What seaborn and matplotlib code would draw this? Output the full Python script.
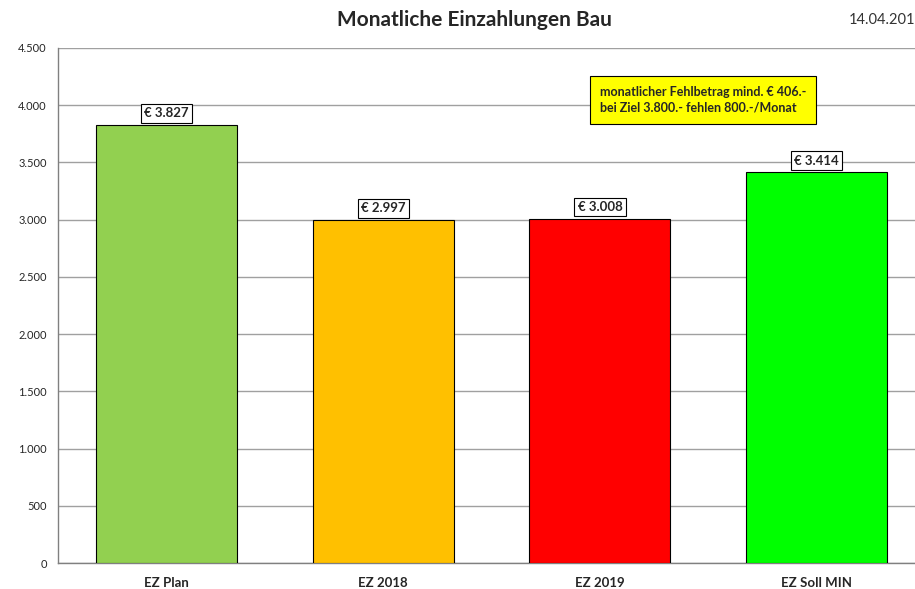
import numpy as np
import pandas as pd
import matplotlib
matplotlib.use("Agg")
import matplotlib.pyplot as plt
from matplotlib.ticker import FuncFormatter, FixedLocator
import seaborn as sns

sns.set_style("white")
plt.rcParams['font.family'] = ['Lato', 'DejaVu Sans']

# data
categories = ['EZ Plan', 'EZ 2018', 'EZ 2019', 'EZ Soll MIN']
values = [3827, 2997, 3008, 3414]
bar_colors = ['#92D050', '#FFC000', '#FF0000', '#00FF00']
title = 'Monatliche Einzahlungen Bau'
date_text = '14.04.201'
note = 'monatlicher Fehlbetrag mind. € 406.-\nbei Ziel 3.800.- fehlen 800.-/Monat'

df = pd.DataFrame({'cat': categories, 'val': values})

W, H = 915, 589
fig = plt.figure(figsize=(W / 100, H / 100), dpi=100)
# plot area runs slightly past the right edge, as in the original
ax = fig.add_axes([58 / W, (H - 563) / H, (925 - 58) / W, (563 - 48) / H])

sns.barplot(data=df, x='cat', y='val', hue='cat', palette=bar_colors,
            width=0.65, edgecolor='black', linewidth=0.8, legend=False,
            saturation=1, ax=ax, zorder=3)

ax.set_xlim(-0.5, 3.5)
ax.set_ylim(0, 4500)
ax.set_yticks(np.arange(0, 4501, 500))
ax.yaxis.set_major_formatter(FuncFormatter(lambda v, p: f'{int(v):,}'.replace(',', '.')))
ax.grid(axis='y', color='#A0A0A0', linewidth=1, zorder=0)
ax.set_xlabel('')
ax.set_ylabel('')

for s in ['top', 'right']:
    ax.spines[s].set_visible(False)
for s in ['left', 'bottom']:
    ax.spines[s].set_color('#808080')
    ax.spines[s].set_linewidth(1)

ax.tick_params(axis='y', which='major', length=4, color='#808080', labelsize=8, pad=4)
ax.tick_params(axis='x', which='major', length=0, labelsize=9.5, pad=10)
ax.xaxis.set_minor_locator(FixedLocator(np.arange(-0.5, 4, 1)))
ax.tick_params(axis='x', which='minor', length=5, color='#808080', direction='out')
for lab in ax.get_xticklabels():
    lab.set_fontweight('bold')

# value labels
for i, v in enumerate(values):
    ax.annotate(f'€ {v:,}'.replace(',', '.'), (i, v), xytext=(0, 4),
                textcoords='offset points', ha='center', va='bottom',
                fontsize=9.5, fontweight='bold', zorder=5,
                bbox=dict(boxstyle='square,pad=0.25', fc='white', ec='black', lw=0.8))

# note box
ax.text(2.0, 4045, note, ha='left', va='center', fontsize=9, fontweight='bold',
        linespacing=1.35, zorder=5,
        bbox=dict(boxstyle='square,pad=0.8', fc='#FFFF00', ec='black', lw=0.8))

fig.text(474 / W, 1 - 20 / H, title, ha='center', va='center', fontsize=15, fontweight='bold')
fig.text(1.0, 1 - 20 / H, date_text, ha='right', va='center', fontsize=10.5, color='#333333')

fig.savefig('out.png', dpi=100)
